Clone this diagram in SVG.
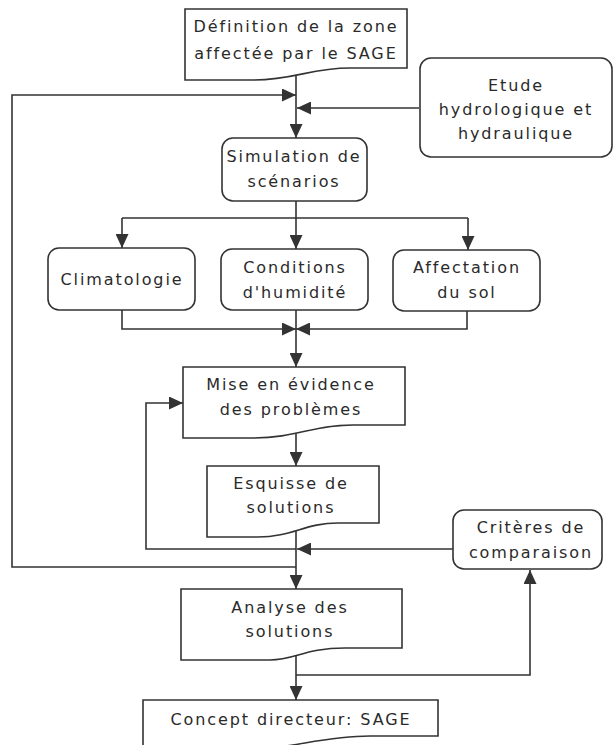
<svg xmlns="http://www.w3.org/2000/svg" width="614" height="745" viewBox="0 0 614 745">
<style>
.bx{fill:#fff;stroke:#333;stroke-width:1.6}
.ln{fill:none;stroke:#333;stroke-width:1.6;marker-end:url(#ah)}
.pl{fill:none;stroke:#333;stroke-width:1.6}
text{font-family:"DejaVu Sans","Verdana",sans-serif;font-size:16px;letter-spacing:1.9px;fill:#2a2a2a;text-anchor:middle}
</style>
<defs>
<marker id="ah" viewBox="0 0 14 13" refX="14" refY="6.5" markerWidth="14" markerHeight="13" markerUnits="userSpaceOnUse" orient="auto">
<path d="M0,0 L14,6.5 L0,13 Z" fill="#333"/>
</marker>
</defs>
<rect width="614" height="745" fill="#fff"/>
<g id="connectors">
<path class="ln" d="M296,74 V138"/>
<path class="ln" d="M296,567 H12 V95 H296"/>
<path class="ln" d="M419,108 H297"/>
<path class="pl" d="M296,201 V218 M122,218 H468"/>
<path class="ln" d="M122,218 V248"/>
<path class="ln" d="M296,218 V249"/>
<path class="ln" d="M468,218 V250"/>
<path class="ln" d="M122,310 V329 H296"/>
<path class="ln" d="M467,311 V329 H296"/>
<path class="ln" d="M296,310 V367"/>
<path class="ln" d="M296,430 V466"/>
<path class="ln" d="M296,530 V589"/>
<path class="ln" d="M453,549 H297"/>
<path class="ln" d="M296,549 H146 V403 H183"/>
<path class="ln" d="M296,654 V700"/>
<path class="ln" d="M296,675 H530 V570"/>
</g>
<g id="n1">
<path class="bx" d="M185,9 H407 V68 H350 C310,68 295,80 253,80 H185 Z"/>
<text x="296" y="32">Définition de la zone</text>
<text x="296" y="59">affectée par le SAGE</text>
</g>
<g id="n2">
<rect class="bx" x="420" y="58" width="192" height="99" rx="11"/>
<text x="516" y="91">Etude</text>
<text x="516" y="115">hydrologique et</text>
<text x="516" y="139">hydraulique</text>
</g>
<g id="n3">
<rect class="bx" x="222" y="138" width="145" height="63" rx="11"/>
<text x="294" y="162">Simulation de</text>
<text x="294" y="187">scénarios</text>
</g>
<g id="n4">
<rect class="bx" x="48" y="248" width="147" height="62" rx="11"/>
<text x="122" y="285">Climatologie</text>
</g>
<g id="n5">
<rect class="bx" x="221" y="249" width="147" height="61" rx="11"/>
<text x="295" y="273">Conditions</text>
<text x="295" y="298">d'humidité</text>
</g>
<g id="n6">
<rect class="bx" x="393" y="250" width="147" height="61" rx="11"/>
<text x="467" y="273">Affectation</text>
<text x="467" y="298">du sol</text>
</g>
<g id="n7">
<path class="bx" d="M183,367 H405 V425 H353 C312,425 297,438 253,438 H183 Z"/>
<text x="291" y="390">Mise en évidence</text>
<text x="291" y="415">des problèmes</text>
</g>
<g id="n8">
<path class="bx" d="M207,466 H379 V523 H338 C305,523 292,537 258,537 H207 Z"/>
<text x="291" y="489">Esquisse de</text>
<text x="291" y="513">solutions</text>
</g>
<g id="n9">
<rect class="bx" x="453" y="510" width="149" height="59" rx="11"/>
<text x="531" y="533">Critères de</text>
<text x="531" y="558">comparaison</text>
</g>
<g id="n10">
<path class="bx" d="M181,589 H402 V648 H345 C305,648 295,660 270,660 H181 Z"/>
<text x="290" y="613">Analyse des</text>
<text x="290" y="637">solutions</text>
</g>
<g id="n11">
<path class="bx" d="M143,700 H438 V736 H370 C320,736 290,750 240,750 H143 Z"/>
<text x="291" y="725">Concept directeur: SAGE</text>
</g>
</svg>
